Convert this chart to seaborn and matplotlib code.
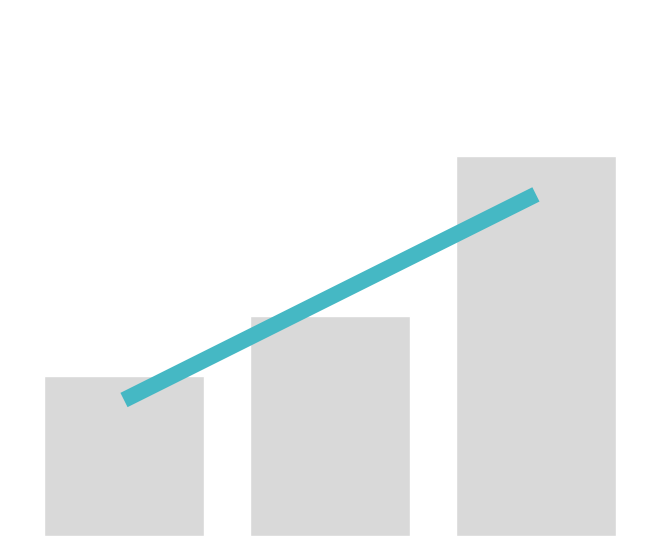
import pandas as pd
import seaborn as sns
import matplotlib
matplotlib.use('Agg')
import matplotlib.pyplot as plt

# Chart values
categories = ['A', 'B', 'C']
bar_values = [40, 55, 95]
line_values = [34, 59.7, 85.4]

df = pd.DataFrame({'category': categories, 'bar': bar_values, 'line': line_values})

sns.set_style('white')
fig = plt.figure(figsize=(6.63, 5.36), dpi=100)
ax = fig.add_axes([0, 0, 1, 1])

# Bars
sns.barplot(data=df, x='category', y='bar', color='#d9d9d9', saturation=1,
            width=0.777, ax=ax)

# Trend line
sns.lineplot(x=range(len(categories)), y=df['line'], color='#45b8c4',
             linewidth=11.5, ax=ax)
for line in ax.lines:
    line.set_solid_capstyle('butt')

ax.set_xlim(-0.602, 2.617)
ax.set_ylim(0, 134)
ax.axis('off')

plt.savefig('out.png', dpi=100)
